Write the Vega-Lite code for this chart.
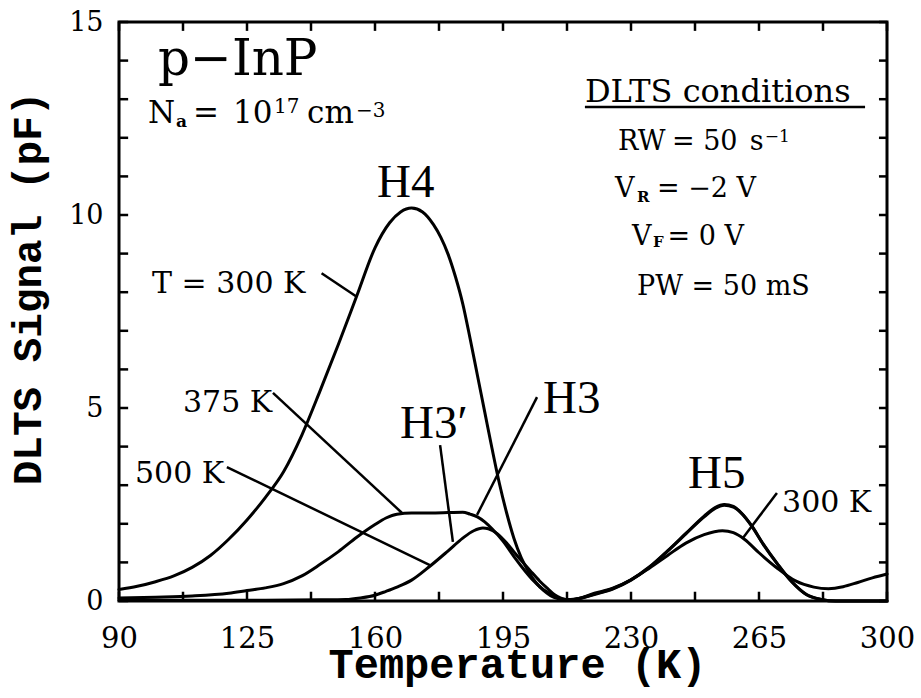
{
  "$schema": "https://vega.github.io/schema/vega-lite/v6.json",
  "width": 768,
  "height": 579,
  "autosize": {"type": "none"},
  "padding": {"left": 119, "top": 22, "right": 34, "bottom": 97},
  "background": "white",
  "config": {"view": {"stroke": "black", "strokeWidth": 3}},
  "datasets": {
    "curves": [
      {"temp": 90, "signal": 0.3, "anneal": "300 K"},
      {"temp": 95, "signal": 0.38, "anneal": "300 K"},
      {"temp": 100, "signal": 0.5, "anneal": "300 K"},
      {"temp": 105, "signal": 0.65, "anneal": "300 K"},
      {"temp": 110, "signal": 0.87, "anneal": "300 K"},
      {"temp": 115, "signal": 1.18, "anneal": "300 K"},
      {"temp": 120, "signal": 1.6, "anneal": "300 K"},
      {"temp": 125, "signal": 2.1, "anneal": "300 K"},
      {"temp": 130, "signal": 2.68, "anneal": "300 K"},
      {"temp": 135, "signal": 3.35, "anneal": "300 K"},
      {"temp": 140, "signal": 4.3, "anneal": "300 K"},
      {"temp": 145, "signal": 5.45, "anneal": "300 K"},
      {"temp": 150, "signal": 6.65, "anneal": "300 K"},
      {"temp": 155, "signal": 7.9, "anneal": "300 K"},
      {"temp": 160, "signal": 9.15, "anneal": "300 K"},
      {"temp": 164, "signal": 9.8, "anneal": "300 K"},
      {"temp": 167, "signal": 10.08, "anneal": "300 K"},
      {"temp": 170, "signal": 10.18, "anneal": "300 K"},
      {"temp": 173, "signal": 10.08, "anneal": "300 K"},
      {"temp": 176, "signal": 9.75, "anneal": "300 K"},
      {"temp": 178, "signal": 9.42, "anneal": "300 K"},
      {"temp": 180, "signal": 8.98, "anneal": "300 K"},
      {"temp": 182, "signal": 8.4, "anneal": "300 K"},
      {"temp": 184, "signal": 7.7, "anneal": "300 K"},
      {"temp": 186, "signal": 6.8, "anneal": "300 K"},
      {"temp": 188, "signal": 5.85, "anneal": "300 K"},
      {"temp": 190, "signal": 4.9, "anneal": "300 K"},
      {"temp": 192, "signal": 3.95, "anneal": "300 K"},
      {"temp": 194, "signal": 3.05, "anneal": "300 K"},
      {"temp": 196, "signal": 2.28, "anneal": "300 K"},
      {"temp": 198, "signal": 1.62, "anneal": "300 K"},
      {"temp": 200, "signal": 1.12, "anneal": "300 K"},
      {"temp": 202, "signal": 0.76, "anneal": "300 K"},
      {"temp": 204, "signal": 0.48, "anneal": "300 K"},
      {"temp": 206, "signal": 0.28, "anneal": "300 K"},
      {"temp": 208, "signal": 0.14, "anneal": "300 K"},
      {"temp": 210, "signal": 0.06, "anneal": "300 K"},
      {"temp": 212, "signal": 0.03, "anneal": "300 K"},
      {"temp": 215, "signal": 0.05, "anneal": "300 K"},
      {"temp": 220, "signal": 0.2, "anneal": "300 K"},
      {"temp": 225, "signal": 0.33, "anneal": "300 K"},
      {"temp": 230, "signal": 0.55, "anneal": "300 K"},
      {"temp": 235, "signal": 0.85, "anneal": "300 K"},
      {"temp": 240, "signal": 1.18, "anneal": "300 K"},
      {"temp": 245, "signal": 1.5, "anneal": "300 K"},
      {"temp": 250, "signal": 1.72, "anneal": "300 K"},
      {"temp": 255, "signal": 1.82, "anneal": "300 K"},
      {"temp": 258, "signal": 1.77, "anneal": "300 K"},
      {"temp": 261, "signal": 1.6, "anneal": "300 K"},
      {"temp": 265, "signal": 1.25, "anneal": "300 K"},
      {"temp": 270, "signal": 0.85, "anneal": "300 K"},
      {"temp": 275, "signal": 0.52, "anneal": "300 K"},
      {"temp": 280, "signal": 0.36, "anneal": "300 K"},
      {"temp": 284, "signal": 0.32, "anneal": "300 K"},
      {"temp": 288, "signal": 0.37, "anneal": "300 K"},
      {"temp": 292, "signal": 0.48, "anneal": "300 K"},
      {"temp": 296, "signal": 0.6, "anneal": "300 K"},
      {"temp": 300, "signal": 0.7, "anneal": "300 K"},

      {"temp": 90, "signal": 0.08, "anneal": "375 K"},
      {"temp": 100, "signal": 0.1, "anneal": "375 K"},
      {"temp": 110, "signal": 0.13, "anneal": "375 K"},
      {"temp": 120, "signal": 0.2, "anneal": "375 K"},
      {"temp": 125, "signal": 0.27, "anneal": "375 K"},
      {"temp": 130, "signal": 0.34, "anneal": "375 K"},
      {"temp": 135, "signal": 0.45, "anneal": "375 K"},
      {"temp": 140, "signal": 0.65, "anneal": "375 K"},
      {"temp": 145, "signal": 0.95, "anneal": "375 K"},
      {"temp": 150, "signal": 1.28, "anneal": "375 K"},
      {"temp": 155, "signal": 1.65, "anneal": "375 K"},
      {"temp": 160, "signal": 1.98, "anneal": "375 K"},
      {"temp": 163, "signal": 2.15, "anneal": "375 K"},
      {"temp": 166, "signal": 2.25, "anneal": "375 K"},
      {"temp": 170, "signal": 2.28, "anneal": "375 K"},
      {"temp": 175, "signal": 2.28, "anneal": "375 K"},
      {"temp": 180, "signal": 2.29, "anneal": "375 K"},
      {"temp": 184, "signal": 2.3, "anneal": "375 K"},
      {"temp": 186, "signal": 2.25, "anneal": "375 K"},
      {"temp": 188, "signal": 2.18, "anneal": "375 K"},
      {"temp": 190, "signal": 2.05, "anneal": "375 K"},
      {"temp": 192, "signal": 1.87, "anneal": "375 K"},
      {"temp": 195, "signal": 1.55, "anneal": "375 K"},
      {"temp": 198, "signal": 1.15, "anneal": "375 K"},
      {"temp": 200, "signal": 0.9, "anneal": "375 K"},
      {"temp": 203, "signal": 0.56, "anneal": "375 K"},
      {"temp": 206, "signal": 0.3, "anneal": "375 K"},
      {"temp": 208, "signal": 0.18, "anneal": "375 K"},
      {"temp": 211, "signal": 0.05, "anneal": "375 K"},
      {"temp": 213, "signal": 0.03, "anneal": "375 K"},
      {"temp": 215, "signal": 0.05, "anneal": "375 K"},
      {"temp": 220, "signal": 0.18, "anneal": "375 K"},
      {"temp": 225, "signal": 0.32, "anneal": "375 K"},
      {"temp": 230, "signal": 0.55, "anneal": "375 K"},
      {"temp": 235, "signal": 0.88, "anneal": "375 K"},
      {"temp": 240, "signal": 1.3, "anneal": "375 K"},
      {"temp": 245, "signal": 1.75, "anneal": "375 K"},
      {"temp": 250, "signal": 2.2, "anneal": "375 K"},
      {"temp": 253, "signal": 2.42, "anneal": "375 K"},
      {"temp": 255.5, "signal": 2.5, "anneal": "375 K"},
      {"temp": 258, "signal": 2.45, "anneal": "375 K"},
      {"temp": 260, "signal": 2.3, "anneal": "375 K"},
      {"temp": 263, "signal": 1.95, "anneal": "375 K"},
      {"temp": 266, "signal": 1.5, "anneal": "375 K"},
      {"temp": 270, "signal": 0.97, "anneal": "375 K"},
      {"temp": 274, "signal": 0.5, "anneal": "375 K"},
      {"temp": 278, "signal": 0.17, "anneal": "375 K"},
      {"temp": 282, "signal": 0.04, "anneal": "375 K"},
      {"temp": 286, "signal": 0.0, "anneal": "375 K"},
      {"temp": 300, "signal": 0.0, "anneal": "375 K"},

      {"temp": 90, "signal": 0.02, "anneal": "500 K"},
      {"temp": 110, "signal": 0.02, "anneal": "500 K"},
      {"temp": 130, "signal": 0.02, "anneal": "500 K"},
      {"temp": 145, "signal": 0.03, "anneal": "500 K"},
      {"temp": 152, "signal": 0.04, "anneal": "500 K"},
      {"temp": 156, "signal": 0.08, "anneal": "500 K"},
      {"temp": 160, "signal": 0.15, "anneal": "500 K"},
      {"temp": 163, "signal": 0.25, "anneal": "500 K"},
      {"temp": 166, "signal": 0.36, "anneal": "500 K"},
      {"temp": 170, "signal": 0.54, "anneal": "500 K"},
      {"temp": 175, "signal": 0.9, "anneal": "500 K"},
      {"temp": 180, "signal": 1.3, "anneal": "500 K"},
      {"temp": 184, "signal": 1.63, "anneal": "500 K"},
      {"temp": 187, "signal": 1.82, "anneal": "500 K"},
      {"temp": 189.5, "signal": 1.89, "anneal": "500 K"},
      {"temp": 191, "signal": 1.87, "anneal": "500 K"},
      {"temp": 193.5, "signal": 1.74, "anneal": "500 K"},
      {"temp": 196, "signal": 1.5, "anneal": "500 K"},
      {"temp": 198, "signal": 1.27, "anneal": "500 K"},
      {"temp": 200, "signal": 1.05, "anneal": "500 K"},
      {"temp": 202.5, "signal": 0.78, "anneal": "500 K"},
      {"temp": 205, "signal": 0.52, "anneal": "500 K"},
      {"temp": 207, "signal": 0.34, "anneal": "500 K"},
      {"temp": 209, "signal": 0.17, "anneal": "500 K"},
      {"temp": 211, "signal": 0.07, "anneal": "500 K"},
      {"temp": 213, "signal": 0.03, "anneal": "500 K"},
      {"temp": 215, "signal": 0.05, "anneal": "500 K"},
      {"temp": 220, "signal": 0.17, "anneal": "500 K"},
      {"temp": 225, "signal": 0.31, "anneal": "500 K"},
      {"temp": 230, "signal": 0.54, "anneal": "500 K"},
      {"temp": 235, "signal": 0.87, "anneal": "500 K"},
      {"temp": 240, "signal": 1.29, "anneal": "500 K"},
      {"temp": 245, "signal": 1.74, "anneal": "500 K"},
      {"temp": 250, "signal": 2.18, "anneal": "500 K"},
      {"temp": 253, "signal": 2.4, "anneal": "500 K"},
      {"temp": 255.5, "signal": 2.48, "anneal": "500 K"},
      {"temp": 258, "signal": 2.43, "anneal": "500 K"},
      {"temp": 260, "signal": 2.29, "anneal": "500 K"},
      {"temp": 263, "signal": 1.94, "anneal": "500 K"},
      {"temp": 266, "signal": 1.49, "anneal": "500 K"},
      {"temp": 270, "signal": 0.96, "anneal": "500 K"},
      {"temp": 274, "signal": 0.49, "anneal": "500 K"},
      {"temp": 278, "signal": 0.16, "anneal": "500 K"},
      {"temp": 282, "signal": 0.04, "anneal": "500 K"},
      {"temp": 286, "signal": 0.0, "anneal": "500 K"},
      {"temp": 300, "signal": 0.0, "anneal": "500 K"}
    ],
    "leaders": [
      {"t1": 145.4, "s1": 8.49, "t2": 155.0, "s2": 7.88},
      {"t1": 132.1, "s1": 5.39, "t2": 167.4, "s2": 2.28},
      {"t1": 119.5, "s1": 3.47, "t2": 175.0, "s2": 0.93},
      {"t1": 177.8, "s1": 4.04, "t2": 181.3, "s2": 1.53},
      {"t1": 204.3, "s1": 5.28, "t2": 187.9, "s2": 2.23},
      {"t1": 269.9, "s1": 2.80, "t2": 260.6, "s2": 1.63},
      {"t1": 217.4, "s1": 12.80, "t2": 294.0, "s2": 12.80}
    ],
    "xTicks": [
      {"temp": 90}, {"temp": 107.5}, {"temp": 125}, {"temp": 142.5}, {"temp": 160},
      {"temp": 177.5}, {"temp": 195}, {"temp": 212.5}, {"temp": 230}, {"temp": 247.5},
      {"temp": 265}, {"temp": 282.5}, {"temp": 300}
    ],
    "yTicks": [
      {"signal": 0}, {"signal": 1}, {"signal": 2}, {"signal": 3}, {"signal": 4}, {"signal": 5},
      {"signal": 6}, {"signal": 7}, {"signal": 8}, {"signal": 9}, {"signal": 10}, {"signal": 11},
      {"signal": 12}, {"signal": 13}, {"signal": 14}, {"signal": 15}
    ],
    "peaks": [
      {"temp": 160.55, "signal": 10.47, "label": "H4"},
      {"temp": 166.84, "signal": 4.22, "label": "H3′"},
      {"temp": 205.94, "signal": 4.87, "label": "H3"},
      {"temp": 245.59, "signal": 2.93, "label": "H5"}
    ],
    "material": [
      {"temp": 100.66, "signal": 13.63, "label": "p−InP"}
    ],
    "curveLabels": [
      {"temp": 99.02, "signal": 7.98, "label": "T = 300 K"},
      {"temp": 107.5, "signal": 4.90, "label": "375 K"},
      {"temp": 94.38, "signal": 3.06, "label": "500 K"},
      {"temp": 271.3, "signal": 2.31, "label": "300 K"}
    ],
    "dopingMain": [
      {"temp": 97.93, "signal": 12.38, "label": "N"},
      {"temp": 110.24, "signal": 12.38, "label": "="},
      {"temp": 121.17, "signal": 12.38, "label": "10"},
      {"temp": 141.41, "signal": 12.38, "label": "cm"}
    ],
    "dopingSup": [
      {"temp": 132.38, "signal": 12.64, "label": "17"},
      {"temp": 154.81, "signal": 12.54, "label": "−3"}
    ],
    "dopingSub": [
      {"temp": 105.59, "signal": 12.28, "label": "a"}
    ],
    "condHeader": [
      {"temp": 217.4, "signal": 12.93, "label": "DLTS conditions"}
    ],
    "condMain": [
      {"temp": 226.45, "signal": 11.68, "label": "RW"},
      {"temp": 241.2, "signal": 11.68, "label": "= 50"},
      {"temp": 262.5, "signal": 11.68, "label": "s"},
      {"temp": 225.63, "signal": 10.47, "label": "V"},
      {"temp": 237.1, "signal": 10.47, "label": "= −2 V"},
      {"temp": 230.28, "signal": 9.22, "label": "V"},
      {"temp": 240.0, "signal": 9.22, "label": "= 0 V"},
      {"temp": 231.65, "signal": 7.93, "label": "PW = 50 mS"}
    ],
    "condSup": [
      {"temp": 266.6, "signal": 11.89, "label": "−1"}
    ],
    "condSub": [
      {"temp": 231.65, "signal": 10.34, "label": "R"},
      {"temp": 236.02, "signal": 9.17, "label": "F"}
    ]
  },
  "layer": [
    {
      "data": {"name": "curves"},
      "mark": {"type": "line", "color": "black", "strokeWidth": 3, "interpolate": "monotone", "strokeJoin": "round", "strokeCap": "round"},
      "encoding": {
        "x": {
          "field": "temp", "type": "quantitative",
          "scale": {"domain": [90, 300], "nice": false, "zero": false},
          "axis": {
            "orient": "bottom",
            "values": [90, 125, 160, 195, 230, 265, 300],
            "labelFlush": false, "labelOverlap": false,
            "ticks": false, "domain": false, "grid": false,
            "labelFont": "DejaVu Serif", "labelFontSize": 29, "labelColor": "black", "labelPadding": 23,
            "title": "Temperature (K)",
            "titleFont": "Liberation Mono", "titleFontSize": 42, "titleFontWeight": "bold", "titleColor": "black",
            "titleX": 398, "titleY": 76, "titleAlign": "center", "titleBaseline": "alphabetic", "titleAnchor": null
          }
        },
        "y": {
          "field": "signal", "type": "quantitative",
          "scale": {"domain": [0, 15], "nice": false},
          "axis": {
            "orient": "left",
            "values": [0, 5, 10, 15],
            "labelOverlap": false, "labelFlush": false,
            "ticks": false, "domain": false, "grid": false,
            "labelFont": "DejaVu Serif", "labelFontSize": 27, "labelColor": "black", "labelPadding": 16,
            "title": "DLTS Signal (pF)",
            "titleFont": "Liberation Mono", "titleFontSize": 41, "titleFontWeight": "bold", "titleColor": "black",
            "titleAngle": -90, "titleX": -79, "titleY": 266, "titleAlign": "center", "titleBaseline": "alphabetic", "titleAnchor": null
          }
        },
        "detail": {"field": "anneal", "type": "nominal"}
      }
    },
    {
      "data": {"name": "leaders"},
      "mark": {"type": "rule", "color": "black", "strokeWidth": 2.5},
      "encoding": {
        "x": {"field": "t1", "type": "quantitative", "axis": null},
        "y": {"field": "s1", "type": "quantitative", "axis": null},
        "x2": {"field": "t2"},
        "y2": {"field": "s2"}
      }
    },
    {
      "data": {"name": "xTicks"},
      "mark": {"type": "rule", "color": "black", "strokeWidth": 2.5},
      "encoding": {
        "x": {"field": "temp", "type": "quantitative", "axis": null},
        "y": {"datum": 0, "type": "quantitative", "axis": null},
        "y2": {"datum": 0.24}
      }
    },
    {
      "data": {"name": "xTicks"},
      "mark": {"type": "rule", "color": "black", "strokeWidth": 2.5},
      "encoding": {
        "x": {"field": "temp", "type": "quantitative", "axis": null},
        "y": {"datum": 15, "type": "quantitative", "axis": null},
        "y2": {"datum": 14.77}
      }
    },
    {
      "data": {"name": "yTicks"},
      "mark": {"type": "rule", "color": "black", "strokeWidth": 2.5},
      "encoding": {
        "y": {"field": "signal", "type": "quantitative", "axis": null},
        "x": {"datum": 90, "type": "quantitative", "axis": null},
        "x2": {"datum": 92.5}
      }
    },
    {
      "data": {"name": "yTicks"},
      "mark": {"type": "rule", "color": "black", "strokeWidth": 2.5},
      "encoding": {
        "y": {"field": "signal", "type": "quantitative", "axis": null},
        "x": {"datum": 300, "type": "quantitative", "axis": null},
        "x2": {"datum": 297.8}
      }
    },
    {
      "data": {"name": "peaks"},
      "mark": {"type": "text", "font": "Liberation Serif", "fontSize": 47, "align": "left", "baseline": "alphabetic", "color": "black"},
      "encoding": {
        "x": {"field": "temp", "type": "quantitative", "axis": null},
        "y": {"field": "signal", "type": "quantitative", "axis": null},
        "text": {"field": "label"}
      }
    },
    {
      "data": {"name": "material"},
      "mark": {"type": "text", "font": "DejaVu Serif", "fontSize": 50, "align": "left", "baseline": "alphabetic", "color": "black"},
      "encoding": {
        "x": {"field": "temp", "type": "quantitative", "axis": null},
        "y": {"field": "signal", "type": "quantitative", "axis": null},
        "text": {"field": "label"}
      }
    },
    {
      "data": {"name": "curveLabels"},
      "mark": {"type": "text", "font": "DejaVu Serif", "fontSize": 30, "align": "left", "baseline": "alphabetic", "color": "black"},
      "encoding": {
        "x": {"field": "temp", "type": "quantitative", "axis": null},
        "y": {"field": "signal", "type": "quantitative", "axis": null},
        "text": {"field": "label"}
      }
    },
    {
      "data": {"name": "dopingMain"},
      "mark": {"type": "text", "font": "DejaVu Serif", "fontSize": 31, "align": "left", "baseline": "alphabetic", "color": "black"},
      "encoding": {
        "x": {"field": "temp", "type": "quantitative", "axis": null},
        "y": {"field": "signal", "type": "quantitative", "axis": null},
        "text": {"field": "label"}
      }
    },
    {
      "data": {"name": "dopingSup"},
      "mark": {"type": "text", "font": "DejaVu Serif", "fontSize": 20, "align": "left", "baseline": "alphabetic", "color": "black"},
      "encoding": {
        "x": {"field": "temp", "type": "quantitative", "axis": null},
        "y": {"field": "signal", "type": "quantitative", "axis": null},
        "text": {"field": "label"}
      }
    },
    {
      "data": {"name": "dopingSub"},
      "mark": {"type": "text", "font": "DejaVu Serif", "fontSize": 17, "fontWeight": "bold", "align": "left", "baseline": "alphabetic", "color": "black"},
      "encoding": {
        "x": {"field": "temp", "type": "quantitative", "axis": null},
        "y": {"field": "signal", "type": "quantitative", "axis": null},
        "text": {"field": "label"}
      }
    },
    {
      "data": {"name": "condHeader"},
      "mark": {"type": "text", "font": "DejaVu Serif", "fontSize": 32, "align": "left", "baseline": "alphabetic", "color": "black"},
      "encoding": {
        "x": {"field": "temp", "type": "quantitative", "axis": null},
        "y": {"field": "signal", "type": "quantitative", "axis": null},
        "text": {"field": "label"}
      }
    },
    {
      "data": {"name": "condMain"},
      "mark": {"type": "text", "font": "DejaVu Serif", "fontSize": 27, "align": "left", "baseline": "alphabetic", "color": "black"},
      "encoding": {
        "x": {"field": "temp", "type": "quantitative", "axis": null},
        "y": {"field": "signal", "type": "quantitative", "axis": null},
        "text": {"field": "label"}
      }
    },
    {
      "data": {"name": "condSup"},
      "mark": {"type": "text", "font": "DejaVu Serif", "fontSize": 17, "align": "left", "baseline": "alphabetic", "color": "black"},
      "encoding": {
        "x": {"field": "temp", "type": "quantitative", "axis": null},
        "y": {"field": "signal", "type": "quantitative", "axis": null},
        "text": {"field": "label"}
      }
    },
    {
      "data": {"name": "condSub"},
      "mark": {"type": "text", "font": "DejaVu Serif", "fontSize": 15, "fontWeight": "bold", "align": "left", "baseline": "alphabetic", "color": "black"},
      "encoding": {
        "x": {"field": "temp", "type": "quantitative", "axis": null},
        "y": {"field": "signal", "type": "quantitative", "axis": null},
        "text": {"field": "label"}
      }
    }
  ],
  "resolve": {"axis": {"x": "independent", "y": "independent"}}
}
